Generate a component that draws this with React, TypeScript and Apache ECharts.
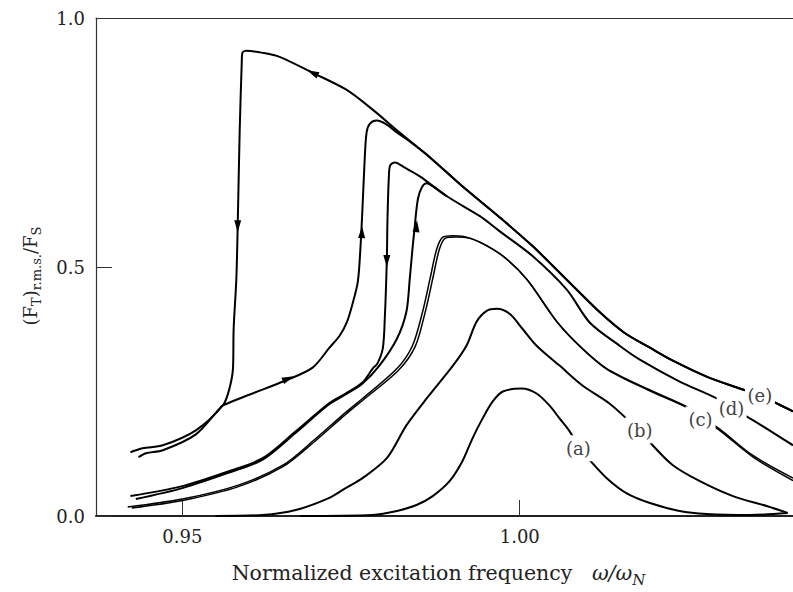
import React, { useEffect, useRef } from "react";
import * as echarts from "echarts";

type P = [number, number];

const X_MIN = 0.9372;
const X_MAX = 1.0405;
const xTickValues = [0.95, 1.0];
const yTickValues = [0, 0.5, 1.0];

const curveA: P[] = [
  [0.9674, 0.0], [0.9782, 0.002], [0.9818, 0.01], [0.9847, 0.022], [0.9871, 0.04],
  [0.9896, 0.07], [0.9915, 0.11], [0.993, 0.156], [0.9945, 0.196], [0.996, 0.23],
  [0.9975, 0.25], [1.0003, 0.256], [1.0025, 0.246], [1.0044, 0.222], [1.0059, 0.196],
  [1.0074, 0.17], [1.0087, 0.14], [1.0104, 0.112], [1.0129, 0.076], [1.0158, 0.046],
  [1.0193, 0.026], [1.0237, 0.01], [1.0277, 0.004], [1.0341, 0.002], [1.0397, 0.006],
];

const curveB: P[] = [
  [0.9549, 0.0], [0.9619, 0.002], [0.9668, 0.012], [0.9717, 0.036], [0.9742, 0.056],
  [0.9767, 0.076], [0.9803, 0.116], [0.9832, 0.182], [0.9862, 0.236], [0.9901, 0.302],
  [0.9921, 0.342], [0.9936, 0.39], [0.9951, 0.412], [0.9966, 0.416], [0.9985, 0.406],
  [1.0004, 0.376], [1.0025, 0.342], [1.0059, 0.302], [1.0093, 0.262], [1.0133, 0.226],
  [1.0158, 0.196], [1.0178, 0.172], [1.0197, 0.142], [1.0227, 0.102], [1.0267, 0.07],
  [1.0316, 0.04], [1.0366, 0.02], [1.0397, 0.006],
];

const curveC1: P[] = [
  [0.9419, 0.018], [0.95, 0.034], [0.9583, 0.062], [0.9649, 0.102], [0.9693, 0.15],
  [0.9742, 0.208], [0.9767, 0.236], [0.9818, 0.296], [0.9841, 0.342], [0.9856, 0.41],
  [0.9867, 0.476], [0.9877, 0.536], [0.9886, 0.56], [0.99, 0.563], [0.9915, 0.562],
  [0.9941, 0.55], [0.9975, 0.522], [1.001, 0.476], [1.0055, 0.39], [1.0093, 0.336],
  [1.0129, 0.296], [1.0188, 0.256], [1.0247, 0.22], [1.0268, 0.2], [1.0296, 0.175],
  [1.0345, 0.122], [1.0405, 0.076],
];

const curveC2: P[] = [
  [0.9425, 0.016], [0.95, 0.031], [0.9583, 0.059], [0.9649, 0.099], [0.9693, 0.146],
  [0.9742, 0.204], [0.9767, 0.232], [0.982, 0.292], [0.9845, 0.34], [0.986, 0.41],
  [0.9871, 0.476], [0.9881, 0.536], [0.989, 0.558], [0.9905, 0.56], [0.992, 0.559],
  [0.9945, 0.547], [0.9978, 0.519], [1.0012, 0.473], [1.0057, 0.387], [1.0095, 0.333],
  [1.0131, 0.293], [1.019, 0.253], [1.0249, 0.217], [1.027, 0.196], [1.0298, 0.17],
  [1.0347, 0.117], [1.0405, 0.071],
];

const curveDDown: P[] = [
  [1.0405, 0.142], [1.037, 0.172], [1.0336, 0.2], [1.0314, 0.216], [1.0292, 0.236],
  [1.0237, 0.27], [1.0178, 0.314], [1.0148, 0.342], [1.0104, 0.388], [1.007, 0.454],
  [1.0019, 0.522], [0.997, 0.572], [0.9941, 0.602], [0.9892, 0.642], [0.9852, 0.682],
  [0.9829, 0.7], [0.9815, 0.71], [0.9808, 0.704], [0.9806, 0.68], [0.9804, 0.596],
  [0.9803, 0.512], [0.98, 0.396], [0.9797, 0.336], [0.9789, 0.306], [0.9782, 0.296],
  [0.9767, 0.268], [0.9742, 0.246], [0.9717, 0.226], [0.9668, 0.17], [0.9619, 0.116],
  [0.9569, 0.09], [0.95, 0.06], [0.9423, 0.04],
];

const curveDUp: P[] = [
  [0.9431, 0.034], [0.95, 0.056], [0.9569, 0.087], [0.9619, 0.113], [0.9668, 0.167],
  [0.9717, 0.224], [0.9742, 0.244], [0.9767, 0.266], [0.9792, 0.302], [0.9818, 0.356],
  [0.9832, 0.41], [0.9837, 0.476], [0.9841, 0.536], [0.9844, 0.576], [0.9849, 0.636],
  [0.9855, 0.66], [0.9862, 0.668], [0.9869, 0.664], [0.9892, 0.642],
];

const curveEDown: P[] = [
  [1.0405, 0.21], [1.0375, 0.23], [1.0356, 0.242], [1.0326, 0.256], [1.0277, 0.28],
  [1.0227, 0.312], [1.0193, 0.338], [1.0155, 0.368], [1.0118, 0.41], [1.007, 0.474],
  [1.0019, 0.542], [0.997, 0.6], [0.9915, 0.662], [0.9867, 0.72], [0.9822, 0.77],
  [0.9782, 0.816], [0.9743, 0.856], [0.9693, 0.89], [0.9644, 0.922], [0.9619, 0.93],
  [0.9595, 0.934], [0.9589, 0.93], [0.9588, 0.91], [0.9585, 0.776], [0.9582, 0.582],
  [0.958, 0.476], [0.9576, 0.376], [0.9575, 0.296], [0.9569, 0.252], [0.956, 0.222],
  [0.952, 0.172], [0.9471, 0.142], [0.9441, 0.136], [0.9423, 0.128],
];

const curveEUp: P[] = [
  [0.9435, 0.118], [0.9446, 0.126], [0.9471, 0.132], [0.952, 0.164], [0.9554, 0.214],
  [0.956, 0.222], [0.96, 0.244], [0.9653, 0.272], [0.9693, 0.298], [0.9718, 0.338],
  [0.9733, 0.362], [0.9744, 0.39], [0.9752, 0.425], [0.976, 0.47], [0.9764, 0.54],
  [0.9767, 0.62], [0.977, 0.71], [0.9773, 0.77], [0.9778, 0.788], [0.9788, 0.794],
  [0.9803, 0.786], [0.9818, 0.77], [0.9837, 0.752], [0.9867, 0.72], [0.9915, 0.662],
  [0.997, 0.6], [1.0019, 0.542], [1.007, 0.474], [1.0118, 0.41], [1.0155, 0.368],
  [1.0193, 0.338], [1.0227, 0.312], [1.0277, 0.28], [1.0326, 0.256], [1.0356, 0.242],
  [1.0375, 0.23], [1.0405, 0.21],
];

const labelNames = ["(a)", "(b)", "(c)", "(d)", "(e)"];
const labelPositions: P[] = [
  [1.0087, 0.136], [1.0178, 0.172], [1.0268, 0.194], [1.0314, 0.216], [1.0356, 0.242],
];

// arrow heads: position on curve and direction (degrees)
const arrowPositions: P[] = [
  [0.9693, 0.89], [0.9582, 0.582], [0.9657, 0.276], [0.9766, 0.57], [0.9803, 0.512], [0.9847, 0.582],
];
const arrowAngles = [64, 180, -67, -2, 180, -5];

const FONT = "'DejaVu Serif', serif";
const INK = "#000";

export default function App() {
  const ref = useRef<HTMLDivElement>(null);
  useEffect(() => {
    if (!ref.current) return;
    const chart = echarts.init(ref.current, undefined, { renderer: "svg" });
    const line = (name: string, data: P[], width = 2) => ({
      name,
      type: "line",
      data,
      showSymbol: false,
      symbol: "none",
      smooth: 0.3,
      lineStyle: { color: INK, width },
      z: 3,
    });
    const eDown: any = line("eDown", curveEDown);
    eDown.markPoint = {
      symbol: "triangle",
      symbolSize: [7, 12],
      itemStyle: { color: INK },
      label: { show: false },
      data: arrowPositions.map((c, i) => ({ coord: c, symbolRotate: arrowAngles[i] })),
    };
    chart.setOption({
      animation: false,
      backgroundColor: "#fff",
      grid: { left: 96, right: 0, top: 18, bottom: 74, containLabel: false },
      xAxis: [
        {
          type: "value",
          min: X_MIN,
          max: X_MAX,
          position: "bottom",
          axisLine: { show: true, onZero: false, lineStyle: { color: "#222", width: 2 } },
          axisTick: { show: true, inside: true, length: 16, customValues: xTickValues, lineStyle: { color: "#333", width: 1 } },
          axisLabel: {
            show: true,
            customValues: xTickValues,
            formatter: (v: number) => v.toFixed(2),
            fontFamily: FONT,
            fontSize: 18,
            color: "#222",
            margin: 11,
          },
          splitLine: { show: false },
          name: "{t|Normalized excitation frequency   }{i|ω/ω}{n|N}",
          nameLocation: "middle",
          nameGap: 44,
          nameTextStyle: {
            padding: [0, 12, 0, 0],
            rich: {
              t: { fontFamily: FONT, fontSize: 20.5, color: "#222", lineHeight: 26 },
              i: { fontFamily: FONT, fontSize: 20.5, fontStyle: "italic", color: "#222", lineHeight: 26 },
              n: { fontFamily: FONT, fontSize: 15, fontStyle: "italic", color: "#222", lineHeight: 15, padding: [13, 0, 0, 0] },
            },
          },
        },
        {
          type: "value",
          min: X_MIN,
          max: X_MAX,
          position: "top",
          axisLine: { show: true, onZero: false, lineStyle: { color: "#333", width: 1 } },
          axisTick: { show: false },
          axisLabel: { show: false },
          splitLine: { show: false },
        },
      ],
      yAxis: {
        type: "value",
        min: 0,
        max: 1,
        interval: 0.5,
        axisLine: { show: true, lineStyle: { color: "#333", width: 1.2 } },
        axisTick: { show: true, inside: true, length: 16, lineStyle: { color: "#333", width: 1 } },
        axisLabel: {
          formatter: (v: number) => (yTickValues.includes(v) ? v.toFixed(1) : ""),
          fontFamily: FONT,
          fontSize: 18,
          color: "#222",
          margin: 11,
        },
        splitLine: { show: false },
        name: "{p|(F}{s|T}{p|)}{s|r.m.s.}{p|/F}{s|S}",
        nameLocation: "middle",
        nameGap: 53,
        nameTextStyle: {
          padding: [0, 18, 0, 0],
          rich: {
            p: { fontFamily: FONT, fontSize: 18, color: "#222", lineHeight: 26 },
            s: { fontFamily: FONT, fontSize: 13, color: "#222", lineHeight: 13, padding: [13, 0, 0, 0] },
          },
        },
      },
      series: [
        line("a", curveA),
        line("b", curveB),
        line("c1", curveC1, 1.5),
        line("c2", curveC2, 1.5),
        line("dDown", curveDDown),
        line("dUp", curveDUp),
        eDown,
        line("eUp", curveEUp),
        {
          name: "labels",
          type: "scatter",
          data: labelPositions.map((p, i) => ({ value: p, name: labelNames[i] })),
          symbol: "rect",
          symbolSize: [30, 26],
          itemStyle: { color: "#fff", opacity: 1 },
          z: 10,
          label: {
            show: true,
            position: "inside",
            formatter: (p: any) => p.name,
            fontFamily: FONT,
            fontSize: 18,
            color: "#444",
          },
        },
      ],
    });
    return () => chart.dispose();
  }, []);
  return (
    <div
      ref={ref}
      style={{ position: "absolute", left: 0, top: 0, width: 793, height: 592, background: "#fff" }}
    />
  );
}
